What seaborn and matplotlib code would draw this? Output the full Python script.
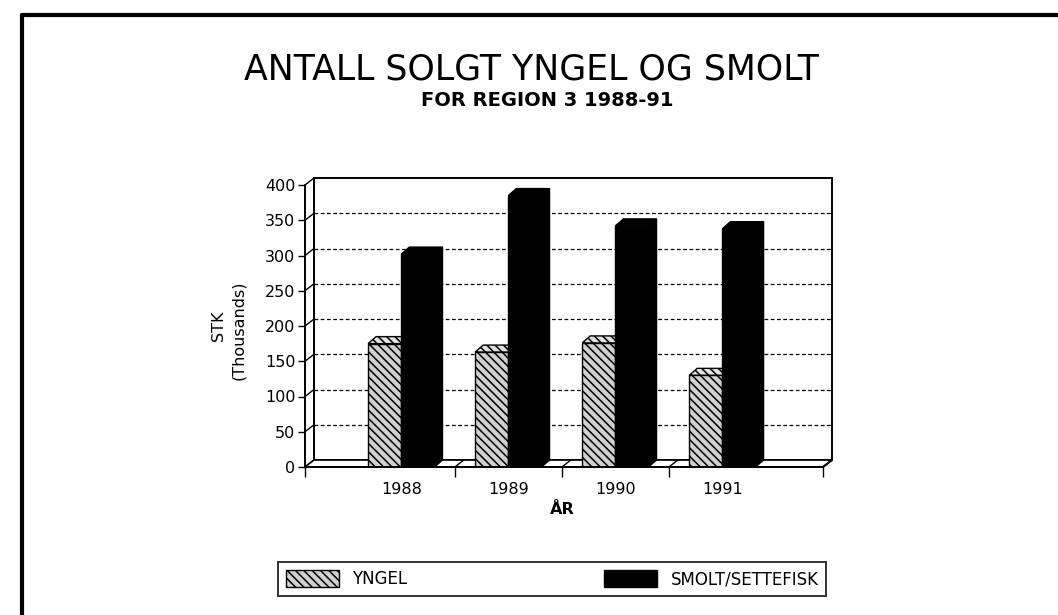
import numpy as np
import pandas as pd
import matplotlib
matplotlib.use("Agg")
import matplotlib.pyplot as plt
import matplotlib.transforms as mtransforms
import seaborn as sns
from matplotlib.patches import Polygon, Rectangle, Patch
from matplotlib.lines import Line2D

# ---------------- data ----------------
years = ["1988", "1989", "1990", "1991"]
yngel = [175, 163, 176, 130]
smolt = [302, 385, 342, 338]
series = ["YNGEL", "SMOLT/SETTEFISK"]
yticks = [0, 50, 100, 150, 200, 250, 300, 350, 400]
title = "ANTALL SOLGT YNGEL OG SMOLT"
subtitle = "FOR REGION 3 1988-91"

sns.set_theme(style="white")
plt.rcParams["font.family"] = ["DejaVu Sans"]
plt.rcParams["hatch.linewidth"] = 1.1
plt.rcParams["hatch.color"] = "black"
plt.rcParams["text.color"] = "black"
plt.rcParams["axes.labelcolor"] = "black"
plt.rcParams["xtick.color"] = "black"
plt.rcParams["ytick.color"] = "black"

W, H = 1058, 615
fig = plt.figure(figsize=(W / 100, H / 100), dpi=100)
fig.patch.set_facecolor("white")


def fx(px):
    return px / W


def fy(py):
    return 1 - py / H


x_left, x_right, y_top, y_bot = 305, 823, 185, 467
ax = fig.add_axes([fx(x_left), fy(y_bot), (x_right - x_left) / W, (y_bot - y_top) / H])
ax.set_facecolor("none")

df = pd.DataFrame({
    "year": years * 2,
    "value": yngel + smolt,
    "series": [series[0]] * len(years) + [series[1]] * len(years),
})
sns.barplot(data=df, x="year", y="value", hue="series", hue_order=series, order=years,
            palette={series[0]: "#c4c4c4", series[1]: "black"}, width=0.62,
            saturation=1, edgecolor="black", linewidth=1.0, legend=False,
            errorbar=None, ax=ax)

XMIN, XMAX = -0.90, 3.94
ax.set_xlim(XMIN, XMAX)
ax.set_ylim(0, 400)
ax.set_xlabel("")
ax.set_ylabel("")
ax.grid(False)
for s in ["top", "right"]:
    ax.spines[s].set_visible(False)
for s in ["left", "bottom"]:
    ax.spines[s].set_color("black")
    ax.spines[s].set_linewidth(1.4)
    ax.spines[s].set_zorder(6)

ax.set_yticks(yticks)
ax.set_yticklabels([str(v) for v in yticks])
ax.tick_params(axis="y", length=5, width=1.0, labelsize=11.5, direction="out", pad=2,
               colors="black", left=True)
ax.set_xticks(range(len(years)))
ax.set_xticklabels(years)
ax.tick_params(axis="x", which="major", length=0, labelsize=11.5, pad=11, colors="black")
ax.set_xticks([XMIN, 0.5, 1.5, 2.5, XMAX], minor=True)
ax.tick_params(axis="x", which="minor", length=7, width=1.0, direction="out",
               colors="black", bottom=True)

# ---------- pseudo 3D ----------
DX, DY = 9, 7  # depth offset in pixels
off = mtransforms.offset_copy(ax.transData, fig=fig, x=DX, y=DY, units="dots")

# back wall
ax.add_patch(Rectangle((XMIN, 0), XMAX - XMIN, 400, transform=off, fill=False,
                       edgecolor="black", lw=1.4, clip_on=False, zorder=0.5))
for v in yticks[1:-1]:
    ax.plot([XMIN, XMAX], [v, v], transform=off, color="black", lw=0.9,
            ls=(0, (3, 2)), clip_on=False, zorder=0.6)

fig.canvas.draw()
to_disp = ax.transData.transform
to_data = ax.transData.inverted().transform


def back(pt, dx=DX, dy=DY):
    d = to_disp(pt)
    return tuple(to_data((d[0] + dx, d[1] + dy)))


# left side-wall connectors
for v in yticks:
    p0 = (XMIN, v)
    p1 = back(p0)
    ax.plot([p0[0], p1[0]], [p0[1], p1[1]], color="black", lw=1.0, clip_on=False, zorder=0.7)

# floor
floor = [(XMIN, 0), (XMAX, 0), back((XMAX, 0)), back((XMIN, 0))]
ax.add_patch(Polygon(floor, closed=True, facecolor="white", edgecolor="black", lw=1.2,
                     clip_on=False, zorder=0.8))
for xb in [0.5, 1.5, 2.5]:
    b = back((xb, 0))
    ax.plot([xb, b[0]], [0, b[1]], color="black", lw=1.0, clip_on=False, zorder=0.9)
rb = back((XMAX, 0))
ax.plot([XMAX, rb[0]], [0, rb[1]], color="black", lw=1.4, clip_on=False, zorder=0.9)

# bars with depth
bars = [p for p in ax.patches if isinstance(p, Rectangle) and p.get_height() > 0
        and p.get_width() < 1]
BDX, BDY = 8, 7
for p in bars:
    x0, w, h = p.get_x(), p.get_width(), p.get_height()
    is_black = np.allclose(p.get_facecolor()[:3], (0, 0, 0))
    z = 3 if is_black else 2
    p.set_zorder(z)
    top = [(x0, h), (x0 + w, h), back((x0 + w, h), BDX, BDY), back((x0, h), BDX, BDY)]
    side = [(x0 + w, 0), (x0 + w, h), back((x0 + w, h), BDX, BDY), back((x0 + w, 0), BDX, BDY)]
    if is_black:
        fc_top, fc_side, hatch = "black", "black", None
    else:
        p.set_hatch("\\\\\\\\")
        p.set_facecolor("#d0d0d0")
        fc_top, fc_side, hatch = "#e0e0e0", "#a0a0a0", "\\\\\\\\"
    ax.add_patch(Polygon(side, closed=True, facecolor=fc_side, edgecolor="black", lw=1.0,
                         hatch=hatch, clip_on=False, zorder=z - 0.1))
    ax.add_patch(Polygon(top, closed=True, facecolor=fc_top, edgecolor="black", lw=1.0,
                         hatch=hatch, clip_on=False, zorder=z - 0.05))

# ---------- texts ----------
fig.text(fx(531), fy(70), title, ha="center", va="center", fontsize=25, color="black")
fig.text(fx(547), fy(101), subtitle, ha="center", va="center", fontsize=14,
         fontweight="bold", color="black")
fig.text(fx(219), fy(326), "STK", ha="center", va="center", rotation=90, fontsize=11.5)
fig.text(fx(239), fy(330), "(Thousands)", ha="center", va="center", rotation=90, fontsize=11.5)
fig.text(fx(562), fy(510), "ÅR", ha="center", va="center", fontsize=11.5, fontweight="bold")

# ---------- legend ----------
handles = [Patch(facecolor="#d0d0d0", edgecolor="black", hatch="\\\\\\\\"),
           Patch(facecolor="black", edgecolor="black")]
lx0, lx1, ly0, ly1 = 278, 826, 560, 598
leg = fig.legend(handles, series, loc="center left", ncol=2, mode="expand",
                 bbox_to_anchor=(fx(lx0), fy(ly1), (lx1 - lx0) / W, (ly1 - ly0) / H),
                 frameon=True, fancybox=False, edgecolor="black", fontsize=12,
                 handlelength=3.2, handleheight=1.2, borderpad=0.45, borderaxespad=0)
leg.get_frame().set_linewidth(1.4)
for t in leg.get_texts():
    t.set_color("black")

# ---------- page frame ----------
fig.add_artist(Line2D([fx(22), fx(22)], [fy(15), 0], transform=fig.transFigure,
                      color="black", lw=3))
fig.add_artist(Line2D([fx(22), 1], [fy(15), fy(15)], transform=fig.transFigure,
                      color="black", lw=3))

fig.savefig("out.png", dpi=100, facecolor="white")
